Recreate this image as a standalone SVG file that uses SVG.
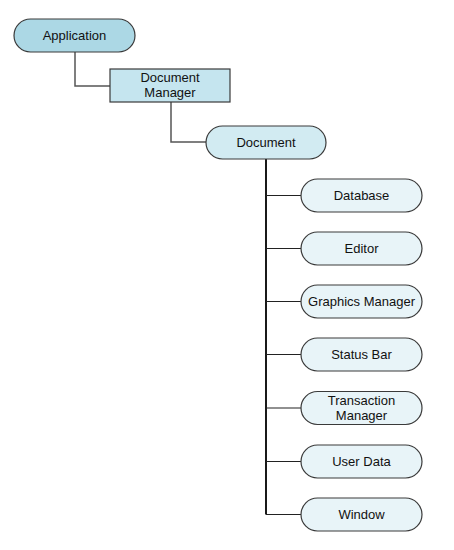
<svg xmlns="http://www.w3.org/2000/svg" width="454" height="550" viewBox="0 0 454 550">
<style>
  .n { stroke: #3a3a3a; stroke-width: 1.2; }
  .t { font-family: "Liberation Sans", Arial, sans-serif; font-size: 13px; fill: #111; text-anchor: middle; }
  .c { fill: none; stroke: #555; stroke-width: 1.5; }
  .cb { fill: none; stroke: #000; stroke-width: 1.8; }
  .cs { fill: none; stroke: #222; stroke-width: 1.2; }
</style>
<rect width="454" height="550" fill="#fff"/>
<g id="connectors">
  <path class="c" d="M75,52 V86 H110"/>
  <path class="c" d="M171,102 V142 H206"/>
  <path class="cb" d="M266,159 V514.5"/>
  <path class="cs" d="M266,195.5 H301"/>
  <path class="cs" d="M266,248.5 H301"/>
  <path class="cs" d="M266,301.5 H301"/>
  <path class="cs" d="M266,354.5 H301"/>
  <path class="cs" d="M266,408 H301"/>
  <path class="cs" d="M266,461.5 H301"/>
  <path class="cs" d="M266,514.5 H301"/>
</g>
<g id="application">
  <rect class="n" x="14" y="19" width="121" height="33" rx="16.5" fill="#acd8e5"/>
  <text class="t" x="74.5" y="40">Application</text>
</g>
<g id="document-manager">
  <rect class="n" x="110" y="69" width="120" height="33" fill="#c5e5ef"/>
  <text class="t" x="170" y="82">Document</text>
  <text class="t" x="170" y="97">Manager</text>
</g>
<g id="document">
  <rect class="n" x="206" y="126" width="120" height="33" rx="16.5" fill="#d2ebf2"/>
  <text class="t" x="266" y="147">Document</text>
</g>
<g id="database">
  <rect class="n" x="301" y="179" width="121" height="33" rx="16.5" fill="#e8f4f8"/>
  <text class="t" x="361.5" y="200">Database</text>
</g>
<g id="editor">
  <rect class="n" x="301" y="232" width="121" height="33" rx="16.5" fill="#e8f4f8"/>
  <text class="t" x="361.5" y="253">Editor</text>
</g>
<g id="graphics-manager">
  <rect class="n" x="301" y="285" width="121" height="33" rx="16.5" fill="#e8f4f8"/>
  <text class="t" x="361.5" y="306">Graphics Manager</text>
</g>
<g id="status-bar">
  <rect class="n" x="301" y="338" width="121" height="33" rx="16.5" fill="#e8f4f8"/>
  <text class="t" x="361.5" y="359">Status Bar</text>
</g>
<g id="transaction-manager">
  <rect class="n" x="301" y="391.5" width="121" height="33" rx="16.5" fill="#e8f4f8"/>
  <text class="t" x="361.5" y="404.5">Transaction</text>
  <text class="t" x="361.5" y="419.5">Manager</text>
</g>
<g id="user-data">
  <rect class="n" x="301" y="445" width="121" height="33" rx="16.5" fill="#e8f4f8"/>
  <text class="t" x="361.5" y="466">User Data</text>
</g>
<g id="window">
  <rect class="n" x="301" y="498" width="121" height="33" rx="16.5" fill="#e8f4f8"/>
  <text class="t" x="361.5" y="519">Window</text>
</g>
</svg>
